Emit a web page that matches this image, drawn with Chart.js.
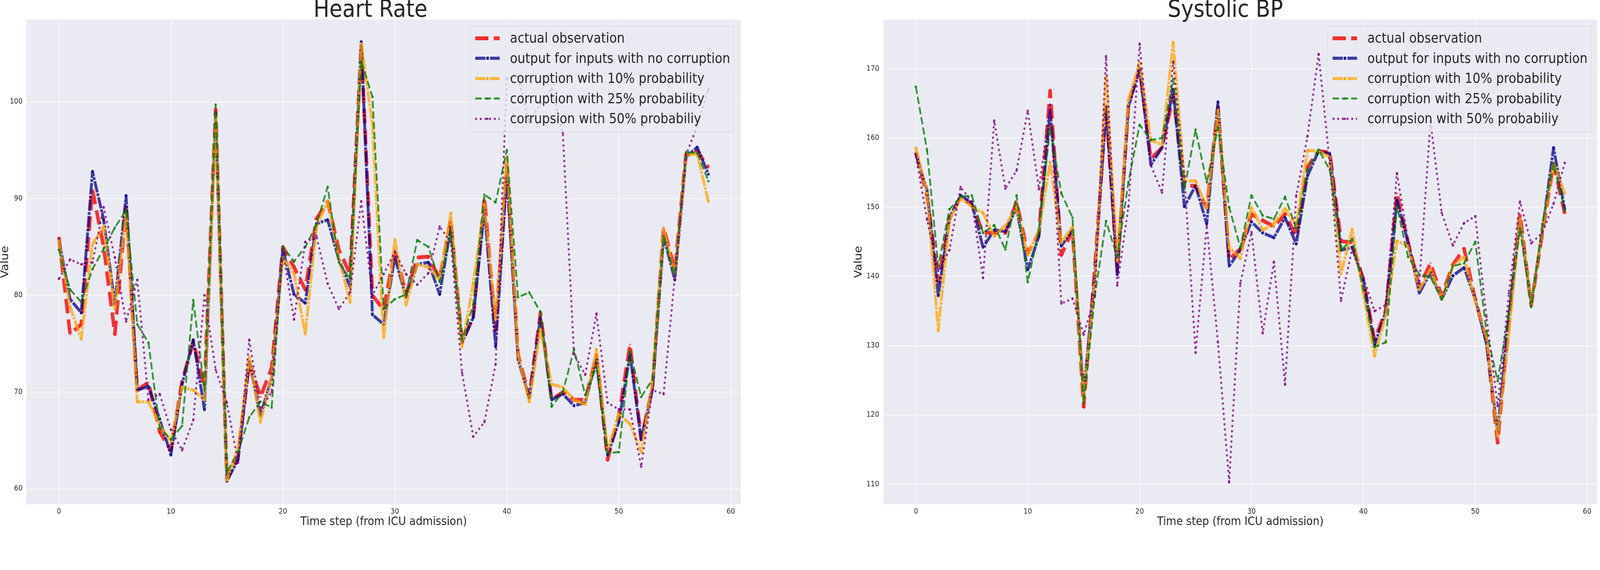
<!DOCTYPE html>
<html>
<head>
<meta charset="utf-8">
<title>Heart Rate and Systolic BP</title>
<script src="https://cdn.jsdelivr.net/npm/chart.js@4.4.1/dist/chart.umd.min.js"></script>
<style>
html, body { margin: 0; padding: 0; background: #fff; overflow: hidden; }
#page { position: absolute; left: 0; top: 0; width: 4546px; height: 1458px; transform-origin: 0 0; font-family: 'DejaVu Sans', sans-serif; }
canvas { position: absolute; top: 0; }
#hrChart { left: 0; width: 2130px; height: 1458px; }
#bpChart { left: 2425px; width: 2121px; height: 1458px; }
.legend { position: absolute; top: 66px; width: 752px; height: 272px; box-sizing: border-box; border: 1.3px solid #cccccc; border-radius: 6px; background: rgba(234,234,242,0.8); padding: 5px 0 0 14px; }
.legend-row { height: 51.5px; display: flex; align-items: center; }
.legend-row svg { margin-right: 29px; flex: none; }
.legend-row span { font-size: 35px; line-height: 1; color: #262626; white-space: nowrap; }
</style>
</head>
<body>
<div id="page">
<canvas id="hrChart"></canvas>
<canvas id="bpChart"></canvas>
<div class="legend" id="hrLegend" style="left:1335px"></div>
<div class="legend" id="bpLegend" style="left:3771px"></div>
</div>
<script>
// x positions (time steps) and tick labels
const timeSteps = [0,1,2,3,4,5,6,7,8,9,10,11,12,13,14,15,16,17,18,19,20,21,22,23,24,25,26,27,28,29,
  30,31,32,33,34,35,36,37,38,39,40,41,42,43,44,45,46,47,48,49,50,51,52,53,54,55,56,57,58];
const xTicks = [0, 10, 20, 30, 40, 50, 60];
const hrTicks = [60, 70, 80, 90, 100];
const bpTicks = [110, 120, 130, 140, 150, 160, 170];

const seriesNames = [
  'actual observation',
  'output for inputs with no corruption',
  'corruption with 10% probability',
  'corruption with 25% probability',
  'corrupsion with 50% probabiliy'
];

// Heart Rate
const hrActual = [86.0,76.0,77.0,90.9,85.0,76.0,89.1,70.2,71.0,65.9,64.0,71.1,75.2,70.5,99.2,61.0,63.3,73.1,69.5,72.5,
  85.0,82.9,80.6,87.9,89.7,84.7,82.2,105.9,80.0,78.5,84.7,80.1,83.9,84.0,81.7,87.8,75.2,77.7,90.1,76.4,
  93.4,73.9,69.5,78.2,69.2,70.0,69.2,69.2,73.8,63.0,67.6,74.9,65.1,70.5,87.0,82.6,94.6,94.9,93.2];
const hrClean = [85.8,79.6,78.2,92.8,87.8,79.1,90.3,70.2,70.6,67.2,63.5,70.8,75.4,68.2,98.9,60.8,63.0,73.1,67.6,71.5,
  84.8,80.1,79.2,87.4,87.8,83.7,80.9,106.2,78.0,77.0,83.9,79.8,83.2,83.4,80.1,87.0,75.1,77.7,88.8,74.7,
  92.4,73.4,69.4,77.7,69.2,69.8,68.6,68.9,73.4,63.5,66.9,73.9,65.1,70.2,86.1,81.6,94.3,95.3,92.5];
const hr10 = [85.7,78.8,75.5,85.3,87.1,78.6,88.4,69.0,69.0,66.6,64.9,70.5,70.2,69.2,98.5,60.9,64.3,73.6,66.9,71.5,
  83.9,82.2,76.0,87.1,89.7,83.9,79.3,106.0,97.7,75.6,85.8,79.0,83.2,82.9,81.6,88.5,74.7,81.2,89.4,77.5,
  94.3,73.8,69.0,76.5,70.8,70.5,69.2,68.7,74.4,64.0,67.7,66.7,63.8,71.1,86.8,82.2,94.5,94.6,89.7];
const hr25 = [84.7,80.6,79.3,82.7,84.8,87.0,88.8,77.0,75.1,66.3,65.1,66.5,79.5,70.2,99.7,61.7,63.8,67.4,69.0,68.4,
  85.0,83.5,85.0,87.3,91.2,83.4,81.7,104.2,100.5,78.6,79.6,80.1,85.7,85.0,81.4,86.5,75.4,79.0,90.4,89.6,
  95.0,79.8,80.3,78.3,68.5,70.0,74.4,69.7,72.6,63.7,63.8,74.2,69.5,71.3,86.1,82.1,94.8,94.7,91.8];
const hr50 = [81.7,83.7,83.2,83.4,89.1,83.9,77.3,81.6,69.2,69.8,66.1,64.0,67.1,80.0,72.3,68.9,62.7,75.4,68.2,70.0,
  84.5,77.5,85.5,86.1,81.2,78.6,80.3,89.7,80.0,82.2,84.5,82.2,81.1,82.3,87.1,85.5,72.0,65.4,66.9,72.9,
  102.4,102.6,97.9,99.8,101.4,96.8,73.9,71.8,78.1,68.9,68.2,68.2,62.3,70.2,69.8,81.9,94.5,97.5,101.3];

// Systolic BP
const bpActual = [157.9,151.7,139.2,148.3,151.5,150.4,146.3,146.3,146.3,150.8,143.3,146.3,166.8,143.1,146.7,121.2,141.3,164.5,140.8,164.8,
  170.0,157.0,158.6,166.1,153.1,153.1,149.9,164.5,142.4,144.0,149.0,148.1,147.2,149.0,145.8,155.8,158.1,157.9,145.1,144.9,
  139.5,130.8,135.1,152.0,144.9,138.5,141.9,137.2,141.7,144.0,136.7,130.8,116.0,133.5,149.0,135.8,146.3,156.3,149.1];
const bpClean = [157.7,152.4,137.2,148.5,151.7,150.6,144.2,146.7,146.5,149.9,141.0,145.8,164.0,144.4,146.7,123.0,140.3,164.5,140.3,164.5,
  170.0,156.1,158.6,167.0,150.1,153.1,147.6,165.2,141.5,143.8,147.9,146.3,145.6,148.5,144.7,154.5,158.1,157.7,143.8,144.2,
  139.4,130.1,134.9,151.0,144.9,137.6,140.6,136.7,140.1,141.3,136.7,130.3,117.6,134.4,148.1,136.0,146.7,158.6,149.7];
const bp10 = [158.6,152.0,132.2,148.1,151.3,150.1,149.2,145.8,147.4,149.9,143.1,146.7,156.5,144.9,147.2,122.1,139.4,168.8,142.2,165.5,
  170.9,159.7,159.0,173.8,153.8,153.8,149.9,164.0,144.2,142.6,150.0,146.7,147.6,149.8,147.4,158.2,158.1,157.2,140.4,146.8,
  137.5,128.5,134.4,145.1,144.4,138.1,141.0,136.7,141.5,142.8,136.4,131.2,116.9,131.7,148.3,136.0,146.7,156.3,152.0];
const bp25 = [167.4,158.2,141.5,149.7,151.5,151.7,146.3,147.4,143.9,151.7,139.2,146.7,161.5,152.0,148.5,121.7,137.2,148.0,142.8,153.6,
  161.9,159.7,160.0,168.5,152.6,161.2,153.6,161.5,150.0,144.2,151.7,148.8,148.3,151.5,146.9,155.4,158.3,155.4,143.8,145.4,
  138.1,129.8,130.5,150.1,142.8,140.3,139.9,136.7,141.5,141.9,145.0,132.1,124.9,134.6,146.9,135.6,147.6,156.3,149.5];
const bp50 = [157.4,148.2,140.8,143.8,152.9,150.8,139.8,162.5,152.7,155.3,163.9,152.6,164.8,136.1,136.8,131.6,137.2,171.8,138.7,150.1,
  173.6,156.1,152.1,171.0,154.5,129.0,147.4,130.5,110.3,139.0,146.4,131.8,142.1,124.4,151.7,160.2,172.1,156.3,136.5,144.0,
  139.9,135.0,135.9,154.9,145.1,139.0,162.4,149.2,144.5,147.7,148.7,134.2,121.3,137.6,150.8,144.8,146.3,150.5,156.4];

const lineStyles = [
  { color: 'rgba(255,0,0,0.8)',    width: 10,  dash: [37, 16],            marker: 'crossRot', r: 3.6 },
  { color: 'rgba(0,0,139,0.75)',   width: 8,   dash: [29.3, 2.7, 7, 3.3], marker: 'circle',   r: 3.7 },
  { color: 'rgba(255,165,0,0.75)', width: 8,   dash: [29.3, 2.7, 7, 3.3], marker: 'circle',   r: 3.7 },
  { color: 'rgba(0,128,0,0.8)',    width: 5,   dash: [18.5, 8],           marker: 'circle',   r: 3.3 },
  { color: 'rgba(128,0,128,0.8)',  width: 5.3, dash: [5.5, 7.8],          marker: 'circle',   r: 3.3 }
];

// the layout is drawn at 4546x1458 and stretched onto whatever viewport the browser gives
const scaleX = window.innerWidth / 4546;
const scaleY = window.innerHeight / 1458;
document.getElementById('page').style.transform = `scale(${scaleX}, ${scaleY})`;

Chart.defaults.font.family = "'DejaVu Sans', sans-serif";
Chart.defaults.color = '#262626';

const plotBackground = {
  id: 'plotBackground',
  beforeDraw(chart) {
    const { ctx, chartArea: a } = chart;
    ctx.save();
    ctx.fillStyle = '#EAEAF2';
    ctx.fillRect(a.left, a.top, a.right - a.left, a.bottom - a.top);
    ctx.restore();
  }
};

function makeDatasets(seriesList) {
  return seriesList.map((values, i) => {
    const s = lineStyles[i];
    const cross = s.marker === 'crossRot';
    return {
      label: seriesNames[i],
      data: values,
      order: seriesList.length - i,   // first series at the bottom, like matplotlib
      borderColor: s.color,
      borderWidth: s.width,
      borderDash: s.dash,
      borderCapStyle: 'butt',
      borderJoinStyle: 'round',
      fill: false,
      tension: 0,
      pointStyle: s.marker,
      pointRadius: s.r,
      pointBackgroundColor: s.color,
      pointBorderColor: s.color,
      pointBorderWidth: cross ? 1.3 : 0
    };
  });
}

function makeChart(canvasId, titleText, seriesList, yMin, yMax, yTicks, yAxisWidth, tickPad, padRight) {
  return new Chart(document.getElementById(canvasId), {
    type: 'line',
    data: { labels: timeSteps, datasets: makeDatasets(seriesList) },
    options: {
      responsive: false,
      maintainAspectRatio: false,
      animation: false,
      devicePixelRatio: 1,
      events: [],
      layout: { padding: { left: 0, right: padRight, top: 0, bottom: 108 } },
      plugins: {
        legend: { display: false },
        tooltip: { enabled: false },
        title: {
          display: true, text: titleText, color: '#262626',
          font: { size: 60, weight: 'normal', lineHeight: 0.7 },
          padding: { top: 6, bottom: 2 }
        }
      },
      scales: {
        x: {
          type: 'linear', min: -2.9, max: 60.9,
          afterBuildTicks: s => { s.ticks = xTicks.map(v => ({ value: v })); },
          afterFit: s => { s.height = 60; },
          grid: { color: '#ffffff', lineWidth: 1.6, drawTicks: false },
          border: { display: false },
          ticks: { color: '#262626', font: { size: 19 }, padding: 8, maxRotation: 0 },
          title: { display: true, text: 'Time step (from ICU admission)', color: '#262626',
                   font: { size: 30, lineHeight: 1 }, padding: 0 }
        },
        y: {
          type: 'linear', min: yMin, max: yMax,
          afterBuildTicks: s => { s.ticks = yTicks.map(v => ({ value: v })); },
          afterFit: s => { s.width = yAxisWidth; },
          grid: { color: '#ffffff', lineWidth: 1.6, drawTicks: false },
          border: { display: false },
          ticks: { color: '#262626', font: { size: 19 }, padding: tickPad },
          title: { display: true, text: 'Value', color: '#262626',
                   font: { size: 30, lineHeight: 1 }, padding: 0 }
        }
      }
    },
    plugins: [plotBackground]
  });
}

function buildLegend(containerId) {
  const box = document.getElementById(containerId);
  seriesNames.forEach((name, i) => {
    const s = lineStyles[i];
    const marker = s.marker === 'crossRot'
      ? `<path d="M31.5 6.5 L38.5 13.5 M38.5 6.5 L31.5 13.5" stroke="${s.color}" stroke-width="1.3"/>`
      : `<circle cx="35" cy="10" r="${s.r}" fill="${s.color}"/>`;
    const row = document.createElement('div');
    row.className = 'legend-row';
    row.innerHTML = `<svg width="70" height="20" viewBox="0 0 70 20">` +
      `<line x1="0" y1="10" x2="70" y2="10" stroke="${s.color}" stroke-width="${s.width}" stroke-dasharray="${s.dash.join(' ')}"/>` +
      marker + `</svg><span>${name}</span>`;
    box.appendChild(row);
  });
}

const hrCanvas = document.getElementById('hrChart');
hrCanvas.width = 2130; hrCanvas.height = 1458;
const bpCanvas = document.getElementById('bpChart');
bpCanvas.width = 2121; bpCanvas.height = 1458;

makeChart('hrChart', 'Heart Rate', [hrActual, hrClean, hr10, hr25, hr50], 58.4, 108.5, hrTicks, 75, 11, 25);
makeChart('bpChart', 'Systolic BP', [bpActual, bpClean, bp10, bp25, bp50], 107.1, 177.1, bpTicks, 85, 12, 8);
buildLegend('hrLegend');
buildLegend('bpLegend');
</script>
</body>
</html>
